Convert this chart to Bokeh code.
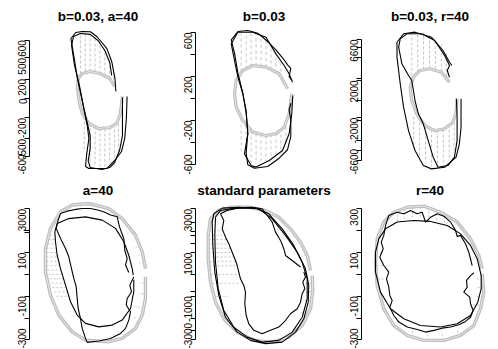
import math
from bokeh.plotting import figure
from bokeh.layouts import gridplot
from bokeh.models import Range1d, FixedTicker
from bokeh.embed import file_html
from bokeh.resources import INLINE

titles = ["b=0.03, a=40", "b=0.03", "b=0.03, r=40", "a=40", "standard parameters", "r=40"]

# ---------------- panel 1 : b=0.03, a=40 ----------------
p1_ticks = [600, 417, 200, 0, -200, -415, -600]
p1_labels = ["600", "500", "200", "0", "-200", "-500", "-600"]
p1_smooth_x = [114.3, 113.3, 110, 105, 95, 88.3, 80, 73.3, 68.3, 71.7, 75, 80, 85, 86.7, 84.3, 83.3, 86.7, 105, 113.3, 120, 123.3, 125, 125.7]
p1_smooth_y = [72, 206, 381, 515, 635, 686, 689, 679, 617, 412, 206, -31, -278, -412, -583, -700, -720, -720, -635, -545, -412, -206, 21]
p1_rough_x = [110, 108, 103, 96, 88, 78, 71, 69, 72, 77, 81, 85, 88, 88, 86, 88, 100, 108, 113, 118, 121, 121, 121]
p1_rough_y = [237, 370, 494, 597, 659, 669, 638, 545, 340, 134, -72, -247, -381, -515, -638, -710, -731, -710, -659, -535, -381, -175, 10]
p1_mean_x = [113, 108, 98, 88, 80, 75.7, 75, 76.7, 80, 86.7, 96.7, 108.3, 115, 118.3, 120, 120.7]
p1_mean_y = [123, 206, 257, 278, 257, 206, 103, -31, -154, -257, -309, -298, -257, -172, -69, 21]
p1_bar_x = [78, 83, 88, 93, 98, 103, 108, 112, 82, 88, 93, 98, 103, 108, 113, 117]
p1_bar_lo = [257, 278, 278, 278, 257, 237, 206, 144, -185, -257, -288, -309, -309, -298, -268, -206]
p1_bar_hi = [648, 669, 669, 638, 587, 515, 412, 288, -535, -679, -700, -710, -710, -669, -638, -556]

# ---------------- panel 2 : b=0.03 ----------------
p2_ticks = [600, 400, 200, 0, -200, -400, -600]
p2_labels = ["600", "", "200", "", "-200", "", "-600"]
p2_smooth_x = [125.7, 122.3, 117.3, 109, 99, 85.7, 70.7, 64, 67.3, 70.7, 75.7, 79, 80.7, 77.3, 84, 89, 102.3, 115.7, 122.3, 125, 126]
p2_smooth_y = [148, 225, 300, 406, 557, 603, 603, 497, 345, 194, 43, -109, -321, -503, -609, -624, -564, -473, -321, -139, 27]
p2_rough_x = [124.7, 122.3, 124, 120.7, 117.3, 109, 100.7, 90.7, 80.7, 70.7, 64, 67.3, 70.7, 75.7, 79, 80.7, 79, 80.7, 87.3, 100.7, 112.3, 120.7, 124, 124, 122.3, 123.3, 124]
p2_rough_y = [170, 200, 275, 306, 352, 443, 518, 594, 618, 609, 534, 412, 230, 48, -134, -315, -497, -603, -634, -618, -543, -466, -345, -194, -103, -73, -43]
p2_mean_x = [120.7, 112.3, 99, 85.7, 75.7, 69, 67.3, 69, 75.7, 85.7, 99, 109, 117.3, 122.3, 124, 125]
p2_mean_y = [88, 225, 285, 300, 255, 164, 43, -79, -200, -306, -336, -321, -261, -139, -18, 43]
p2_bar_x = [74, 79, 84, 89, 94, 99, 104, 109, 114, 74, 79, 84, 89, 94, 99, 104, 109, 114, 119]
p2_bar_lo = [245, 273, 291, 300, 295, 285, 264, 236, 191, -182, -245, -291, -318, -327, -336, -327, -318, -273, -200]
p2_bar_hi = [590, 600, 600, 591, 577, 554, 500, 418, 345, -473, -564, -591, -600, -591, -573, -545, -518, -473, -409]

# ---------------- panel 3 : b=0.03, r=40 ----------------
p3_ticks = [600, 520, 420, 213, 195, 0, -175, -203, -400, -500, -600]
p3_labels = ["6600", "", "", "", "2000", "", "-2000", "", "", "", "-6600"]
p3_smooth_x = [118.7, 116.3, 109.7, 98, 81.3, 69.7, 63, 63, 66.3, 69.7, 74.7, 81.3, 89.7, 98, 111.3, 123, 126.3, 128, 128]
p3_smooth_y = [342, 375, 491, 623, 673, 657, 573, 425, 161, -71, -303, -501, -650, -683, -667, -567, -434, -270, 12]
p3_rough_x = [116.3, 114, 116.3, 111.3, 101.3, 88, 73, 66.3, 64.7, 68, 74.7, 78, 79.7, 81.3, 84.7, 89.7, 94.7, 99.7, 104.7, 114.7, 121.3, 124, 124, 123.3]
p3_rough_y = [226, 293, 342, 441, 590, 657, 657, 607, 524, 359, 243, 193, 94, -5, -137, -236, -402, -567, -667, -650, -567, -402, -171, 12]
p3_mean_x = [116.3, 108, 96.3, 86.3, 79.7, 76.3, 78, 83, 91.3, 101.3, 111.3, 119.7, 123, 124]
p3_mean_y = [177, 276, 310, 293, 226, 127, -5, -137, -253, -303, -286, -220, -121, 12]
p3_bar_x = [78, 84, 90, 96, 102, 108, 113, 80, 86, 92, 98, 104, 110, 116, 121]
p3_bar_lo = [193, 273, 303, 312, 308, 283, 233, -164, -223, -263, -293, -303, -293, -243, -174]
p3_bar_hi = [650, 670, 670, 650, 610, 551, 471, -461, -570, -630, -660, -660, -650, -600, -521]

# ---------------- panel 4 : a=40 ----------------
p4_ticks = [300, 200, 190, 100, 0, -100, -200, -300]
p4_labels = ["3000", "", "", "100", "", "-100", "", "-300"]
p4_mean_x = [145, 141.7, 135, 121.7, 108.3, 88.3, 71.7, 60, 50, 45, 45, 50, 58.3, 71.7, 85, 108.3, 121.7, 135, 141.7, 145, 145]
p4_mean_y = [27, 104, 180, 256, 302, 325, 318, 287, 211, 119, 12, -95, -186, -263, -301, -308, -293, -247, -186, -110, -11]
p4_smooth_x = [132.7, 131.7, 128.3, 123.3, 115, 101.7, 85, 68.3, 56.7, 54.3, 55, 56.7, 60, 65, 70, 76.7, 85, 98.3, 111.7, 121.7, 130, 133.3, 133.3]
p4_smooth_y = [-3, 27, 88, 150, 211, 249, 264, 256, 234, 195, 150, 88, 27, -49, -125, -186, -224, -240, -232, -209, -156, -79, -24]
p4_rough_x = [128.3, 125, 126.7, 124.3, 123.3, 119, 116.7, 110, 105, 98.3, 90, 81.7, 75, 66.7, 60, 57.7, 55.7, 60, 65, 68.3, 71, 73.3, 75.7, 76.7, 77.7, 80, 81.7, 85, 86.7, 98.3, 110, 120, 125, 128.3, 130, 125.7, 126.7, 131, 129.3, 133.3]
p4_rough_y = [9, 43, 73, 111, 165, 218, 264, 272, 284, 294, 302, 302, 298, 290, 279, 249, 211, 165, 119, 81, 27, -18, -56, -110, -156, -202, -247, -293, -311, -305, -293, -270, -247, -209, -171, -140, -110, -79, -49, -11]
p4_hx0 = [49, 48, 47, 46, 46, 46, 46, 46, 47, 48, 49, 51, 52, 54, 56, 125, 131, 136, 140, 143, 144, 144, 143, 140, 135, 127, 110, 95, 80, 80, 95, 110]
p4_hy0 = [180, 160, 140, 120, 100, 80, 60, 40, 20, 0, -20, -40, -60, -80, -100, 240, 205, 170, 130, 90, 55, -40, -90, -150, -200, -240, -305, -305, -290, 320, 322, 300]
p4_hx1 = [54, 54, 55, 55, 56, 57, 58, 59, 60, 62, 63, 64, 65, 67, 68, 122, 127, 132, 135, 138, 139, 139, 138, 135, 131, 124, 110, 95, 81, 80, 95, 109]
p4_hy1 = [180, 160, 140, 120, 100, 80, 60, 40, 20, 0, -20, -40, -60, -80, -100, 222, 190, 158, 122, 86, 52, -40, -88, -145, -190, -228, -285, -285, -272, 300, 302, 282]

# ---------------- panel 5 : standard parameters ----------------
p5_ticks = [300, 240, 195, 180, 140, 100, 0, -80, -100, -200, -255, -300]
p5_labels = ["3000", "", "", "", "", "1000", "", "", "-1000", "", "", "-3000"]
p5_mean_x = [144, 140.7, 134, 124, 112.3, 99, 82.3, 65.7, 52.3, 44, 41.7, 41.7, 44, 49, 57.3, 70.7, 87.3, 105.7, 122.3, 135.7, 144, 146.3, 145.7]
p5_mean_y = [18, 87, 148, 209, 262, 293, 308, 308, 293, 255, 179, 72, -35, -127, -203, -264, -302, -310, -287, -234, -157, -73, -5]
p5_smooth_x = [45.7, 47.3, 55.7, 72.3, 92.3, 105.7, 119, 130.7, 139, 142.3, 141.7, 137.3, 129, 115.7, 99, 84, 70.7, 59, 52.3, 48.3, 46.3, 45.7]
p5_smooth_y = [240, 278, 304, 308, 301, 255, 179, 102, 26, -50, -127, -203, -264, -310, -317, -302, -264, -196, -96, 11, 133, 240]
p5_smooth2_x = [49, 54, 69, 89, 102.3, 115.7, 127.3, 135.7, 140.7, 140.7, 135.7, 125.7, 112.3, 95.7, 80.7, 67.3, 57.3, 51.7, 49, 48.3, 49]
p5_smooth2_y = [262, 293, 305, 304, 278, 209, 133, 56, -20, -111, -196, -264, -302, -310, -287, -241, -165, -65, 56, 179, 262]
p5_rough_x = [134, 125.7, 119, 117.3, 114, 109, 105.7, 100.7, 95.7, 85.7, 72.3, 60.7, 54, 57.3, 55.7, 59, 62.3, 65.7, 69, 70.7, 72.3, 74, 77.3, 79, 78.3, 79.7, 82.3, 87.3, 95.7, 104, 112.3, 119, 124, 130.7, 134, 135.7, 138.3, 136.3, 139, 137.3]
p5_rough_y = [34, 64, 87, 118, 156, 194, 240, 270, 301, 308, 305, 293, 278, 247, 209, 171, 141, 102, 64, 41, 11, -20, -50, -81, -134, -188, -226, -256, -272, -256, -241, -211, -180, -157, -127, -88, -65, -35, -12, 11]
p5_hx0 = [43, 42, 42, 42, 42, 42, 42, 43, 43, 44, 46, 49, 145, 145, 144, 141, 112, 124, 134, 140, 88, 105, 70, 70, 85, 55]
p5_hy0 = [200, 180, 160, 140, 120, 100, 80, 60, 40, 0, -40, -100, -40, -80, -120, -180, 262, 209, 148, 87, -302, -310, -264, 308, 308, 290]
p5_hx1 = [60, 60, 60, 62, 64, 66, 68, 69, 70, 73, 75, 62, 139, 139, 138, 135, 110, 120, 129, 135, 88, 105, 73, 70, 85, 57]
p5_hy1 = [200, 180, 160, 140, 120, 100, 80, 60, 40, 0, -40, -100, -40, -80, -120, -175, 245, 195, 140, 84, -285, -292, -250, 290, 290, 275]

# ---------------- panel 6 : r=40 ----------------
p6_ticks = [300, 200, 100, 0, -100, -200, -300]
p6_labels = ["300", "", "100", "", "-100", "", "-300"]
p6_mean_x = [149.7, 146.3, 138, 124.7, 108, 91.3, 74.7, 61.3, 51.3, 44.7, 43, 44.7, 51.3, 61.3, 74.7, 91.3, 111.3, 128, 141.3, 148, 151.3, 149.7]
p6_mean_y = [26, 87, 163, 240, 285, 313, 308, 285, 240, 163, 56, -50, -157, -234, -279, -302, -302, -279, -234, -157, -81, 3]
p6_smooth_x = [53, 64.7, 81.3, 98, 114.7, 128, 138, 144.7, 148.7, 148.7, 145.3, 138, 124.7, 108, 88, 71.3, 58, 48, 43, 43, 46.3, 53]
p6_smooth_y = [209, 240, 247, 243, 224, 186, 133, 72, -5, -65, -127, -188, -226, -241, -234, -203, -157, -81, 11, 102, 163, 209]
p6_rough_x = [139.7, 138, 136.3, 133, 128, 124.7, 123, 118, 111.3, 104.7, 98, 93, 89.7, 84.7, 78, 71.3, 64.7, 56.3, 53, 51.3, 48.7, 50.7, 47.3, 51.3, 56.3, 54, 56.3, 57.3, 59.7, 57.3, 61.3, 66.3, 74.7, 84.7, 93, 101.3, 109.7, 118, 126.3, 133, 138, 140.7, 138, 137.3, 131.3, 134.7, 134, 138, 141.3]
p6_rough_y = [41, 72, 102, 141, 179, 174, 202, 240, 267, 278, 262, 240, 285, 278, 293, 278, 285, 270, 224, 179, 148, 118, 79, 41, 11, -20, -58, -96, -119, -150, -188, -218, -241, -252, -264, -256, -246, -241, -230, -215, -196, -165, -134, -104, -81, -58, -27, -5, 8]
p6_hx0 = [65, 72, 80, 88, 96, 104, 112, 150, 151, 150, 147, 44, 44, 45, 80, 95, 110, 125]
p6_hy0 = [292, 300, 306, 310, 308, 295, 285, -20, -60, -100, -140, 100, 40, -20, -285, -302, -302, -285]
p6_hx1 = [65, 72, 80, 88, 96, 104, 112, 144, 145, 144, 141, 50, 50, 52, 80, 95, 110, 125]
p6_hy1 = [245, 250, 255, 255, 250, 245, 235, -20, -60, -100, -140, 100, 40, -20, -245, -262, -265, -250]

GRAY = "#bebebe"
GRAY_CORE = "#e6e6e6"
HATCH = "#c4c4c4"


def make_panel(title, left, yr, ticks, labels, mean, blacks, hatch, dash, ring_w):
    p = figure(width=166, height=174, x_range=Range1d(left, 166), y_range=Range1d(*yr),
               output_backend="svg", toolbar_location=None, x_axis_location=None,
               min_border_left=left, min_border_right=0, min_border_top=24, min_border_bottom=2,
               title=title)
    p.grid.visible = False
    p.outline_line_color = None
    p.background_fill_color = "white"
    p.border_fill_color = "white"
    p.title.align = "center"
    p.title.text_font = "Liberation Sans"
    p.title.text_font_style = "bold"
    p.title.text_font_size = "13.5px"
    p.title.text_color = "black"
    p.title.standoff = 1
    ax = p.yaxis[0]
    ax.ticker = FixedTicker(ticks=ticks)
    ax.major_label_overrides = {t: l for t, l in zip(ticks, labels)}
    ax.bounds = (min(ticks), max(ticks))
    ax.major_label_orientation = math.pi / 2
    ax.major_label_text_font = "Liberation Sans"
    ax.major_label_text_font_size = "10px"
    ax.major_label_text_color = "black"
    ax.major_label_standoff = 2
    ax.major_tick_out = 5
    ax.major_tick_in = 0
    ax.minor_tick_out = 0
    ax.minor_tick_in = 0
    ax.axis_line_color = "black"
    ax.major_tick_line_color = "black"

    hx0, hy0, hx1, hy1 = hatch
    p.segment(x0=hx0, y0=hy0, x1=hx1, y1=hy1, line_color=HATCH, line_width=1, line_dash=dash)
    p.line(mean[0], mean[1], line_color=GRAY, line_width=ring_w)
    p.line(mean[0], mean[1], line_color=GRAY_CORE, line_width=1)
    for bx, by in blacks:
        p.line(bx, by, line_color="black", line_width=1.1)
    return p


f1 = make_panel(titles[0], 26, (-761, 761), p1_ticks, p1_labels, (p1_mean_x, p1_mean_y),
                [(p1_smooth_x, p1_smooth_y), (p1_rough_x, p1_rough_y)],
                (p1_bar_x, p1_bar_lo, p1_bar_x, p1_bar_hi), "3 2", 3.2)
f2 = make_panel(titles[1], 28, (-673, 673), p2_ticks, p2_labels, (p2_mean_x, p2_mean_y),
                [(p2_smooth_x, p2_smooth_y), (p2_rough_x, p2_rough_y)],
                (p2_bar_x, p2_bar_lo, p2_bar_x, p2_bar_hi), "3 3", 3.2)
f3 = make_panel(titles[2], 27, (-719, 749), p3_ticks, p3_labels, (p3_mean_x, p3_mean_y),
                [(p3_smooth_x, p3_smooth_y), (p3_rough_x, p3_rough_y)],
                (p3_bar_x, p3_bar_lo, p3_bar_x, p3_bar_hi), "3 2", 3.2)
f4 = make_panel(titles[3], 29, (-330, 348), p4_ticks, p4_labels, (p4_mean_x, p4_mean_y),
                [(p4_smooth_x, p4_smooth_y), (p4_rough_x, p4_rough_y)],
                (p4_hx0, p4_hy0, p4_hx1, p4_hy1), "2 2", 3.4)
f5 = make_panel(titles[4], 29, (-330, 348), p5_ticks, p5_labels, (p5_mean_x, p5_mean_y),
                [(p5_smooth_x, p5_smooth_y), (p5_smooth2_x, p5_smooth2_y), (p5_rough_x, p5_rough_y)],
                (p5_hx0, p5_hy0, p5_hx1, p5_hy1), "2 2", 3.4)
f6 = make_panel(titles[5], 29, (-330, 348), p6_ticks, p6_labels, (p6_mean_x, p6_mean_y),
                [(p6_smooth_x, p6_smooth_y), (p6_rough_x, p6_rough_y)],
                (p6_hx0, p6_hy0, p6_hx1, p6_hy1), "2 2", 3.4)

grid = gridplot([[f1, f2, f3], [f4, f5, f6]], toolbar_location=None)

open("out.html", "w").write(file_html(grid, INLINE))
